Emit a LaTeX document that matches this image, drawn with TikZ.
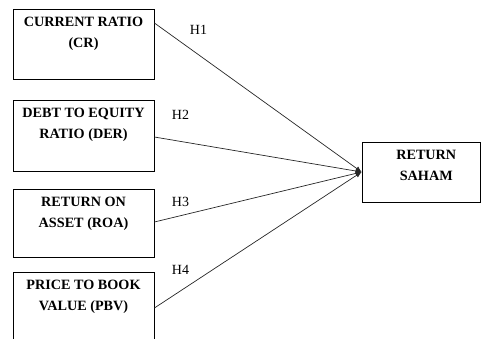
\documentclass[tikz,border=0pt]{standalone}
\usepackage{fontspec}
\setmainfont{Liberation Serif}
\usetikzlibrary{arrows.meta, positioning}

\begin{document}
\begin{tikzpicture}[x=1pt, y=-1pt,
    varbox/.style={draw, line width=0.8pt, minimum width=141pt, inner sep=0pt},
    vartext/.style={align=center, inner sep=0pt, font=\fontsize{14.2}{21}\selectfont\bfseries},
    hyp/.style={-{Latex[length=6pt, width=5pt]}, line width=0.7pt, draw=black!85},
    hlabel/.style={font=\fontsize{14}{16}\selectfont}]
  \useasboundingbox (0,0) rectangle (481,339);
  \clip (0,0) rectangle (481,339);

  % independent variables
  \node[varbox, minimum height=70pt] (cr) at (83.5,44) {};
  \node[vartext, below=8pt of cr.north] (crtext) {CURRENT RATIO\\(CR)};

  \node[varbox, minimum height=71pt] (der) at (83.5,135.5) {};
  \node[vartext, below=8pt of der.north] (dertext) {DEBT TO EQUITY\\RATIO (DER)};

  \node[varbox, minimum height=68pt] (roa) at (83.5,223) {};
  \node[vartext, below=8pt of roa.north] (roatext) {RETURN ON\\ASSET (ROA)};

  \node[varbox, minimum height=72pt] (pbv) at (83.5,308) {};
  \node[vartext, below=8pt of pbv.north] (pbvtext) {PRICE TO BOOK\\VALUE (PBV)};

  % dependent variable
  \node[varbox, minimum width=118.5pt, minimum height=60pt] (ret) at (421.25,172) {};
  \node[vartext, below=8pt of ret.north, xshift=5pt] (rettext) {RETURN\\SAHAM};

  % hypotheses
  \draw[hyp] ([yshift=21pt]cr.east) -- (ret.west);
  \draw[hyp] ([yshift=-1.5pt]der.east) -- (ret.west);
  \draw[hyp] ([yshift=1pt]roa.east) -- (ret.west);
  \draw[hyp] (pbv.east) -- (ret.west);

  \node[hlabel] (h1) at (198.5,30) {H1};
  \node[hlabel] (h2) at (180.5,115) {H2};
  \node[hlabel] (h3) at (180.5,202) {H3};
  \node[hlabel] (h4) at (180.5,270) {H4};
\end{tikzpicture}
\end{document}
